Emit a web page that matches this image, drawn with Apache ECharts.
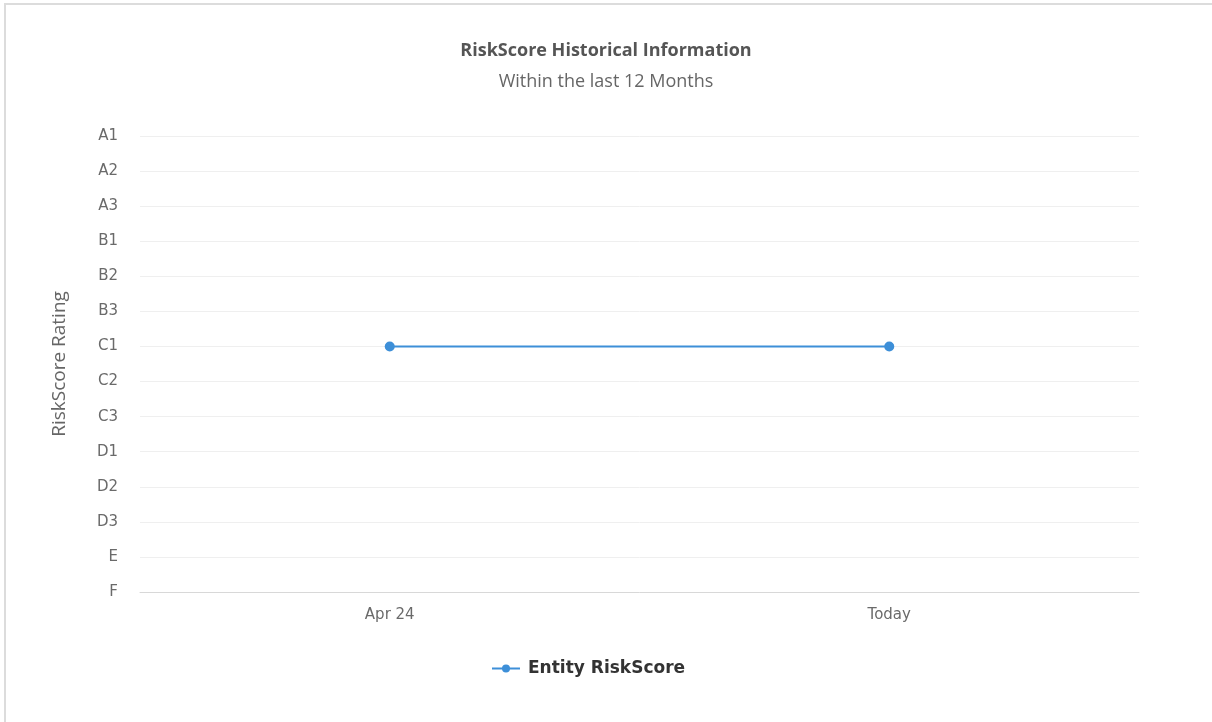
<!DOCTYPE html>
<html>
<head>
<meta charset="utf-8">
<script src="https://cdn.jsdelivr.net/npm/echarts@6/dist/echarts.min.js"></script>
<style>
  html, body { margin: 0; padding: 0; background: #fff; }
  #frame { position: absolute; left: 4px; top: 3px; width: 1300px; height: 800px;
           border-top: 2px solid #dcdcdc; border-left: 2px solid #dcdcdc; pointer-events: none; }
  #chart { position: absolute; left: 0; top: 0; width: 1212px; height: 722px; }
</style>
</head>
<body>
<div id="chart"></div>
<div id="frame"></div>
<script>
// rating scale, bottom to top
const ratings = ['F', 'E', 'D3', 'D2', 'D1', 'C3', 'C2', 'C1', 'B3', 'B2', 'B1', 'A3', 'A2', 'A1']
const periods = ['Apr 24', 'Today']
const scores = ['C1', 'C1']

const chart = echarts.init(document.getElementById('chart'))

chart.setOption({
  backgroundColor: 'transparent',
  animation: false,
  title: {
    text: 'RiskScore Historical Information',
    subtext: 'Within the last 12 Months',
    left: 'center',
    top: 37,
    itemGap: 13,
    textStyle: { fontFamily: 'Open Sans', fontSize: 18, fontWeight: 'bold', color: '#555' },
    subtextStyle: { fontFamily: 'Open Sans', fontSize: 18, color: '#666' }
  },
  legend: {
    top: 655,
    left: 486,
    itemWidth: 28,
    itemHeight: 10,
    itemGap: 8,
    textStyle: { fontFamily: 'DejaVu Sans', fontSize: 17, fontWeight: 'bold', color: '#333', padding: [0, 0, 0, 3] },
    data: ['Entity RiskScore']
  },
  grid: { left: 140, right: 73, top: 136, bottom: 130 },
  xAxis: {
    type: 'category',
    data: periods,
    boundaryGap: true,
    axisTick: { show: false },
    axisLine: { lineStyle: { color: '#d8d8d8' } },
    axisLabel: { fontFamily: 'DejaVu Sans', fontSize: 15, color: '#6a6a6a', margin: 16 }
  },
  yAxis: {
    type: 'category',
    data: ratings,
    boundaryGap: false,
    name: 'RiskScore Rating',
    nameLocation: 'middle',
    nameGap: 71,
    nameTextStyle: { fontFamily: 'Open Sans', fontSize: 19, color: '#666' },
    axisLine: { show: false },
    axisTick: { show: false },
    splitLine: { show: true, lineStyle: { color: '#efefef' } },
    axisLabel: { fontFamily: 'DejaVu Sans', fontSize: 15, color: '#6a6a6a', margin: 22 }
  },
  series: [
    {
      name: 'Entity RiskScore',
      type: 'line',
      data: scores,
      symbol: 'circle',
      symbolSize: 10,
      color: '#3d8fd8',
      lineStyle: { width: 2 },
      itemStyle: { color: '#3d8fd8' }
    }
  ]
})
</script>
</body>
</html>
